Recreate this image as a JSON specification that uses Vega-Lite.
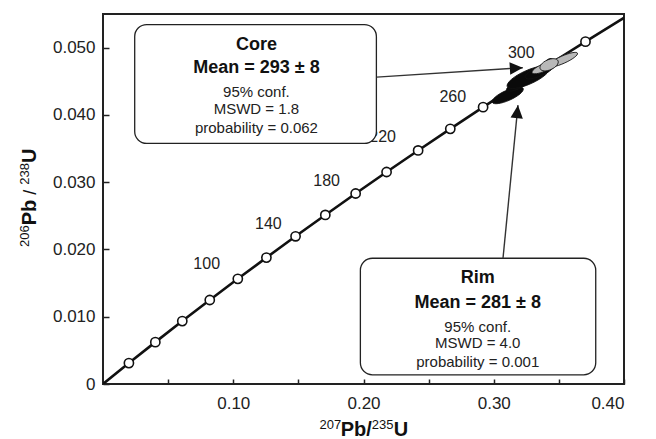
{
  "$schema": "https://vega.github.io/schema/vega-lite/v6.json",
  "autosize": {"type": "none"},
  "width": 521,
  "height": 370,
  "padding": {"left": 103, "top": 14, "right": 32, "bottom": 55},
  "background": "white",
  "config": {
    "font": "Liberation Sans",
    "view": {"stroke": "#222", "strokeWidth": 2},
    "axis": {"grid": false, "domain": false, "tickColor": "#222", "tickWidth": 1.5, "labelColor": "#222", "labelFont": "Liberation Sans", "labelFontSize": 17}
  },
  "datasets": {
    "concordia": [
      {"age": 0, "x": 0, "y": 0},
      {"age": 20, "x": 0.019892, "y": 0.0031073},
      {"age": 40, "x": 0.040180, "y": 0.0062243},
      {"age": 60, "x": 0.060872, "y": 0.0093509},
      {"age": 80, "x": 0.081975, "y": 0.012487},
      {"age": 100, "x": 0.10350, "y": 0.015633},
      {"age": 120, "x": 0.12545, "y": 0.018789},
      {"age": 140, "x": 0.14784, "y": 0.021955},
      {"age": 160, "x": 0.17068, "y": 0.025131},
      {"age": 180, "x": 0.19397, "y": 0.028316},
      {"age": 200, "x": 0.21772, "y": 0.031511},
      {"age": 220, "x": 0.24194, "y": 0.034717},
      {"age": 240, "x": 0.26663, "y": 0.037932},
      {"age": 260, "x": 0.29182, "y": 0.041157},
      {"age": 280, "x": 0.31751, "y": 0.044392},
      {"age": 300, "x": 0.34371, "y": 0.047638},
      {"age": 320, "x": 0.37043, "y": 0.050893},
      {"age": 340, "x": 0.39773, "y": 0.054158},
      {"age": 345, "x": 0.40463, "y": 0.054976}
    ],
    "agelabels": [
      {"label": "100", "x": 0.0796, "y": 0.01784},
      {"label": "140", "x": 0.1270, "y": 0.02378},
      {"label": "180", "x": 0.1717, "y": 0.03017},
      {"label": "220", "x": 0.2147, "y": 0.03674},
      {"label": "260", "x": 0.2685, "y": 0.04268},
      {"label": "300", "x": 0.3211, "y": 0.04927}
    ],
    "ellipses": [
      {"group": "Rim", "x": 0.3107, "y": 0.04290, "err": 0.0118, "form": "mid"},
      {"group": "Rim", "x": 0.3184, "y": 0.04442, "err": 0.0085, "form": "mid"},
      {"group": "Rim", "x": 0.3265, "y": 0.04560, "err": 0.0160, "form": "mid"},
      {"group": "Rim", "x": 0.3353, "y": 0.04650, "err": 0.0110, "form": "mid"},
      {"group": "Rim", "x": 0.3410, "y": 0.04720, "err": 0.0085, "form": "narrow"},
      {"group": "Core", "x": 0.3530, "y": 0.04820, "err": 0.0112, "form": "narrow"},
      {"group": "Core", "x": 0.3380, "y": 0.04700, "err": 0.0085, "form": "mid"},
      {"group": "Core", "x": 0.3425, "y": 0.04745, "err": 0.0068, "form": "wide"}
    ],
    "boxes": [
      {"group": "Core", "x": 0.02434, "x2": 0.2099, "y": 0.03576, "y2": 0.05343},
      {"group": "Rim", "x": 0.1976, "x2": 0.3783, "y": 0.00137, "y2": 0.01869}
    ],
    "boxtext": [
      {"group": "Core", "kind": "head", "text": "Core", "x": 0.1178, "y": 0.05036},
      {"group": "Core", "kind": "head", "text": "Mean = 293 ± 8", "x": 0.1178, "y": 0.04690},
      {"group": "Core", "kind": "stat", "text": "95% conf.", "x": 0.1178, "y": 0.04342},
      {"group": "Core", "kind": "stat", "text": "MSWD = 1.8", "x": 0.1178, "y": 0.04087},
      {"group": "Core", "kind": "stat", "text": "probability = 0.062", "x": 0.1178, "y": 0.03799},
      {"group": "Rim", "kind": "head", "text": "Rim", "x": 0.2877, "y": 0.01572},
      {"group": "Rim", "kind": "head", "text": "Mean = 281 ± 8", "x": 0.2877, "y": 0.01201},
      {"group": "Rim", "kind": "stat", "text": "95% conf.", "x": 0.2877, "y": 0.00849},
      {"group": "Rim", "kind": "stat", "text": "MSWD = 4.0", "x": 0.2877, "y": 0.00616},
      {"group": "Rim", "kind": "stat", "text": "probability = 0.001", "x": 0.2877, "y": 0.00334}
    ],
    "arrows": [
      {"group": "Core", "x": 0.2101, "y": 0.04561, "x2": 0.3223, "y2": 0.04702},
      {"group": "Rim", "x": 0.3071, "y": 0.01869, "x2": 0.3186, "y2": 0.04145}
    ],
    "titles": [
      {"axis": "x", "part": "sup", "text": "207", "x": 0.1662, "y": -0.00665},
      {"axis": "x", "part": "main", "text": "Pb/", "x": 0.1825, "y": -0.00769},
      {"axis": "x", "part": "sup", "text": "235", "x": 0.2063, "y": -0.00665},
      {"axis": "x", "part": "main", "text": "U", "x": 0.2232, "y": -0.00769},
      {"axis": "y", "part": "sup", "text": "206", "x": -0.05704, "y": 0.02037},
      {"axis": "y", "part": "main", "text": "Pb", "x": -0.05167, "y": 0.02359},
      {"axis": "y", "part": "sep", "text": "/", "x": -0.05167, "y": 0.02813},
      {"axis": "y", "part": "sup", "text": "238", "x": -0.05704, "y": 0.02962},
      {"axis": "y", "part": "main", "text": "U", "x": -0.05167, "y": 0.03284}
    ]
  },
  "layer": [
    {
      "data": {"name": "concordia"},
      "mark": {"type": "line", "color": "#111", "strokeWidth": 2.6, "clip": true},
      "encoding": {
        "x": {"field": "x", "type": "quantitative", "scale": {"domain": [0, 0.4], "nice": false},
          "axis": {"values": [0.05, 0.1, 0.15, 0.2, 0.25, 0.3, 0.35, 0.4], "offset": -5, "tickSize": 5, "labelPadding": 11,
            "labelExpr": "round(datum.value*100) % 10 == 0 ? format(datum.value, '.2f') : ''",
            "title": null}},
        "y": {"field": "y", "type": "quantitative", "scale": {"domain": [0, 0.055], "nice": false},
          "axis": {"values": [0, 0.005, 0.01, 0.015, 0.02, 0.025, 0.03, 0.035, 0.04, 0.045, 0.05], "offset": -6, "tickSize": 6, "labelPadding": 8,
            "labelExpr": "datum.value == 0 ? '0' : (round(datum.value*1000) % 10 == 0 ? format(datum.value, '.3f') : '')",
            "title": null}},
        "order": {"field": "age", "type": "quantitative"}
      }
    },
    {
      "data": {"name": "concordia"},
      "transform": [{"filter": "datum.age >= 20 && datum.age <= 320"}],
      "mark": {"type": "point", "filled": true, "fill": "white", "stroke": "#111", "strokeWidth": 1.6, "size": 85, "opacity": 1},
      "encoding": {
        "x": {"field": "x", "type": "quantitative"},
        "y": {"field": "y", "type": "quantitative"}
      }
    },
    {
      "data": {"name": "agelabels"},
      "mark": {"type": "text", "fontSize": 16, "color": "#222", "align": "center", "baseline": "middle"},
      "encoding": {
        "x": {"field": "x", "type": "quantitative"},
        "y": {"field": "y", "type": "quantitative"},
        "text": {"field": "label"}
      }
    },
    {
      "data": {"name": "ellipses"},
      "mark": {"type": "point", "filled": true, "angle": 336, "strokeWidth": 0.8, "opacity": 1},
      "encoding": {
        "x": {"field": "x", "type": "quantitative"},
        "y": {"field": "y", "type": "quantitative"},
        "size": {"field": "err", "type": "quantitative", "scale": {"type": "pow", "exponent": 2, "domain": [0, 0.02], "range": [0, 3306], "zero": true}, "legend": null},
        "shape": {"field": "form", "type": "nominal", "scale": {"domain": ["narrow", "mid", "wide"], "range": ["M-1,0A1,0.23,0,1,1,1,0A1,0.23,0,1,1,-1,0Z", "M-1,0A1,0.3,0,1,1,1,0A1,0.3,0,1,1,-1,0Z", "M-1,0A1,0.52,0,1,1,1,0A1,0.52,0,1,1,-1,0Z"]}, "legend": null},
        "fill": {"field": "group", "type": "nominal", "scale": {"domain": ["Rim", "Core"], "range": ["#0a0a0a", "#b8b8b8"]}, "legend": null},
        "stroke": {"value": "#111"}
      }
    },
    {
      "data": {"name": "boxes"},
      "mark": {"type": "rect", "fill": "white", "stroke": "#222", "strokeWidth": 1.3, "cornerRadius": 12},
      "encoding": {
        "x": {"field": "x", "type": "quantitative"},
        "x2": {"field": "x2"},
        "y": {"field": "y", "type": "quantitative"},
        "y2": {"field": "y2"}
      }
    },
    {
      "data": {"name": "boxtext"},
      "transform": [{"filter": "datum.kind == 'head'"}],
      "mark": {"type": "text", "fontSize": 18, "fontWeight": "bold", "color": "#111", "align": "center", "baseline": "middle"},
      "encoding": {
        "x": {"field": "x", "type": "quantitative"},
        "y": {"field": "y", "type": "quantitative"},
        "text": {"field": "text"}
      }
    },
    {
      "data": {"name": "boxtext"},
      "transform": [{"filter": "datum.kind == 'stat'"}],
      "mark": {"type": "text", "fontSize": 15, "color": "#222", "align": "center", "baseline": "middle"},
      "encoding": {
        "x": {"field": "x", "type": "quantitative"},
        "y": {"field": "y", "type": "quantitative"},
        "text": {"field": "text"}
      }
    },
    {
      "data": {"name": "arrows"},
      "mark": {"type": "rule", "color": "#333", "strokeWidth": 1.4},
      "encoding": {
        "x": {"field": "x", "type": "quantitative"},
        "y": {"field": "y", "type": "quantitative"},
        "x2": {"field": "x2"},
        "y2": {"field": "y2"}
      }
    },
    {
      "data": {"name": "arrows"},
      "transform": [{"filter": "datum.group == 'Core'"}],
      "mark": {"type": "point", "filled": true, "color": "#111", "opacity": 1, "size": 169, "angle": 86.3, "shape": "M0,0L0.95,2L-0.95,2Z"},
      "encoding": {
        "x": {"field": "x2", "type": "quantitative"},
        "y": {"field": "y2", "type": "quantitative"}
      }
    },
    {
      "data": {"name": "arrows"},
      "transform": [{"filter": "datum.group == 'Rim'"}],
      "mark": {"type": "point", "filled": true, "color": "#111", "opacity": 1, "size": 169, "angle": 5.6, "shape": "M0,0L0.95,2L-0.95,2Z"},
      "encoding": {
        "x": {"field": "x2", "type": "quantitative"},
        "y": {"field": "y2", "type": "quantitative"}
      }
    },
    {
      "data": {"name": "titles"},
      "transform": [{"filter": "datum.axis == 'x' && datum.part == 'sup'"}],
      "mark": {"type": "text", "fontSize": 13, "color": "#111", "align": "left", "baseline": "alphabetic"},
      "encoding": {"x": {"field": "x", "type": "quantitative"}, "y": {"field": "y", "type": "quantitative"}, "text": {"field": "text"}}
    },
    {
      "data": {"name": "titles"},
      "transform": [{"filter": "datum.axis == 'x' && datum.part == 'main'"}],
      "mark": {"type": "text", "fontSize": 20, "fontWeight": "bold", "color": "#111", "align": "left", "baseline": "alphabetic"},
      "encoding": {"x": {"field": "x", "type": "quantitative"}, "y": {"field": "y", "type": "quantitative"}, "text": {"field": "text"}}
    },
    {
      "data": {"name": "titles"},
      "transform": [{"filter": "datum.axis == 'y' && datum.part == 'sup'"}],
      "mark": {"type": "text", "fontSize": 13, "color": "#111", "align": "left", "baseline": "alphabetic", "angle": 270},
      "encoding": {"x": {"field": "x", "type": "quantitative"}, "y": {"field": "y", "type": "quantitative"}, "text": {"field": "text"}}
    },
    {
      "data": {"name": "titles"},
      "transform": [{"filter": "datum.axis == 'y' && datum.part == 'main'"}],
      "mark": {"type": "text", "fontSize": 20, "fontWeight": "bold", "color": "#111", "align": "left", "baseline": "alphabetic", "angle": 270},
      "encoding": {"x": {"field": "x", "type": "quantitative"}, "y": {"field": "y", "type": "quantitative"}, "text": {"field": "text"}}
    },
    {
      "data": {"name": "titles"},
      "transform": [{"filter": "datum.axis == 'y' && datum.part == 'sep'"}],
      "mark": {"type": "text", "fontSize": 18, "color": "#111", "align": "left", "baseline": "alphabetic", "angle": 270},
      "encoding": {"x": {"field": "x", "type": "quantitative"}, "y": {"field": "y", "type": "quantitative"}, "text": {"field": "text"}}
    }
  ]
}
